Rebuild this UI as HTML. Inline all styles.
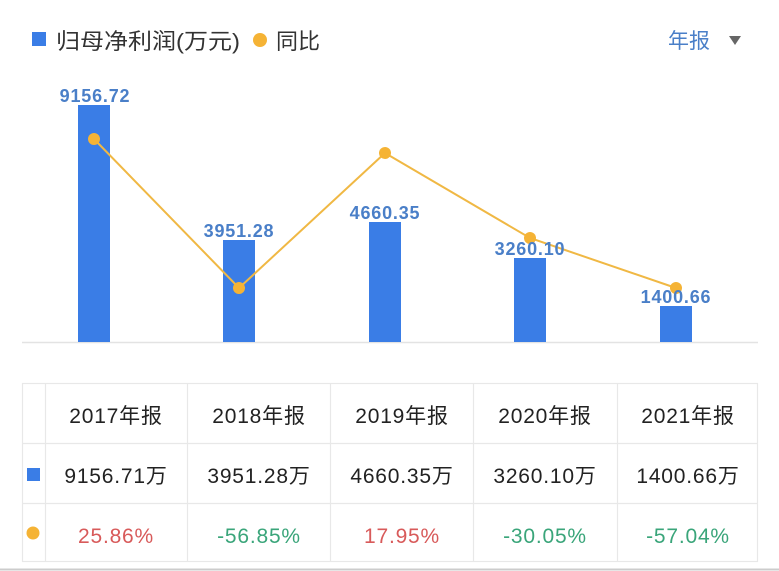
<!DOCTYPE html>
<html><head><meta charset="utf-8"><style>
body{margin:0;width:779px;height:571px;background:#fff;overflow:hidden;font-family:"Liberation Sans","Noto Sans CJK SC",sans-serif;}
</style></head><body>
<svg width="779" height="571" xmlns="http://www.w3.org/2000/svg" style="position:absolute;left:0;top:0">
<g font-family="'Liberation Sans','Noto Sans CJK SC',sans-serif">
<rect x="32" y="32" width="14" height="14" fill="#3a7de6"/>
<text x="56" y="49" font-size="22" fill="#333" textLength="184" lengthAdjust="spacingAndGlyphs">归母净利润(万元)</text>
<circle cx="260" cy="40" r="7" fill="#f5b335"/>
<text x="276" y="49" font-size="22" fill="#333">同比</text>
<text x="668" y="48" font-size="21" fill="#4a7fc8">年报</text>
<polygon points="729,36 741,36 735,45" fill="#666"/>
<line x1="22" y1="342.5" x2="758" y2="342.5" stroke="#e3e3e3" stroke-width="1.5"/>
<g fill="#3a7de6">
<rect x="78" y="105" width="32" height="237"/>
<rect x="223" y="240" width="32" height="102"/>
<rect x="369" y="222" width="32" height="120"/>
<rect x="514" y="258" width="32" height="84"/>
<rect x="660" y="306" width="32" height="36"/>
</g>
<polyline points="94,139 239,288 385,153 530,238 676,288" fill="none" stroke="#f0b844" stroke-width="2"/>
<g fill="#f5b335"><circle cx="94" cy="139" r="6"/><circle cx="239" cy="288" r="6"/><circle cx="385" cy="153" r="6"/><circle cx="530" cy="238" r="6"/><circle cx="676" cy="288" r="6"/></g>
<g font-size="18" fill="#4a7fc8" text-anchor="middle" font-weight="bold" letter-spacing="0.8">
<text x="95" y="102">9156.72</text>
<text x="239" y="237">3951.28</text>
<text x="385" y="219">4660.35</text>
<text x="530" y="255">3260.10</text>
<text x="676" y="303">1400.66</text>
</g>
<g stroke="#e8e8e8" stroke-width="1.2" fill="none">
<rect x="22.5" y="383.5" width="735" height="178"/>
<line x1="22" y1="443.5" x2="758" y2="443.5"/>
<line x1="22" y1="503.5" x2="758" y2="503.5"/>
<line x1="45.5" y1="383" x2="45.5" y2="562"/>
<line x1="187.5" y1="383" x2="187.5" y2="562"/>
<line x1="330.5" y1="383" x2="330.5" y2="562"/>
<line x1="473.5" y1="383" x2="473.5" y2="562"/>
<line x1="617.5" y1="383" x2="617.5" y2="562"/>
</g>
<g font-size="21" fill="#222" text-anchor="middle" letter-spacing="0.8">
<text x="116" y="423">2017年报</text><text x="259" y="423">2018年报</text><text x="402" y="423">2019年报</text><text x="545" y="423">2020年报</text><text x="688" y="423">2021年报</text>
<text x="116" y="483">9156.71万</text><text x="259" y="483">3951.28万</text><text x="402" y="483">4660.35万</text><text x="545" y="483">3260.10万</text><text x="688" y="483">1400.66万</text>
</g>
<g font-size="21" text-anchor="middle" letter-spacing="0.8">
<text x="116" y="543" fill="#d85a5a">25.86%</text>
<text x="259" y="543" fill="#3aa57a">-56.85%</text>
<text x="402" y="543" fill="#d85a5a">17.95%</text>
<text x="545" y="543" fill="#3aa57a">-30.05%</text>
<text x="688" y="543" fill="#3aa57a">-57.04%</text>
</g>
<rect x="27" y="468" width="13" height="13" fill="#3a7de6"/>
<circle cx="33" cy="533" r="6.5" fill="#f5b335"/>
<line x1="0" y1="569.5" x2="779" y2="569.5" stroke="#ccc" stroke-width="2"/>
</g>
</svg>
</body></html>
